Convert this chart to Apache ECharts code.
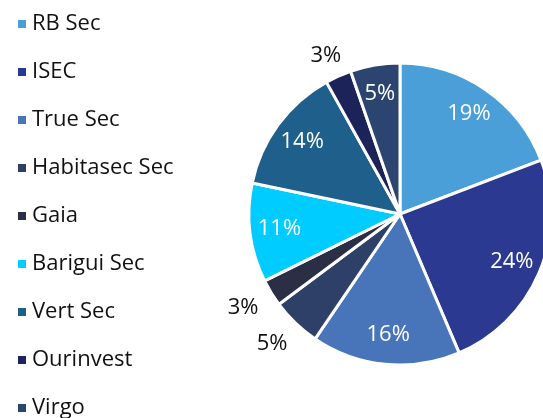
<!DOCTYPE html>
<html>
<head>
<meta charset="utf-8">
<script src="https://cdn.jsdelivr.net/npm/echarts@6/dist/echarts.min.js"></script>
<style>
  html, body { margin: 0; padding: 0; background: #fff; }
  #main { width: 543px; height: 418px; }
</style>
</head>
<body>
<div id="main"></div>
<script>
// securitizadoras - share (%)
var names = ['RB Sec', 'ISEC', 'True Sec', 'Habitasec Sec', 'Gaia', 'Barigui Sec', 'Vert Sec', 'Ourinvest', 'Virgo'];
var shares = [19.2, 24.4, 15.9, 5.3, 2.9, 10.6, 13.6, 2.8, 5.3];
var colors = ['#4A9FD8', '#2B3990', '#4874BA', '#2E4068', '#2B2F45', '#00CCFF', '#1F5F8B', '#1B2359', '#2C4570'];
// small slices get their label outside
var outside = ['Habitasec Sec', 'Gaia', 'Ourinvest'];

var chart = echarts.init(document.getElementById('main'), null, { renderer: 'canvas' });

var pieData = names.map(function (n, i) {
  return { name: n, value: shares[i], itemStyle: { color: colors[i] } };
});

var labelData = names.map(function (n, i) {
  var out = outside.indexOf(n) >= 0;
  var item = {
    name: n,
    value: shares[i],
    label: out ? { position: 'outside', color: '#111', distanceToLabelLine: -12 }
               : { position: 'inside', color: '#fff' }
  };
  if (n == 'Ourinvest') item.labelLine = { length: 22 };
  return item;
});

var option = {
  color: colors,
  textStyle: { fontFamily: 'Open Sans' },
  legend: {
    orient: 'vertical',
    left: 11,
    top: 8,
    height: 800,
    icon: 'rect',
    itemWidth: 10,
    itemHeight: 10,
    itemGap: 26,
    textStyle: { fontSize: 22, color: '#111', fontFamily: 'Open Sans' },
    data: names
  },
  series: [
    {
      name: 'share',
      type: 'pie',
      center: [400, 214],
      radius: [0, 151],
      startAngle: 90,
      silent: true,
      label: { show: false },
      labelLine: { show: false },
      itemStyle: { borderColor: '#fff', borderWidth: 3 },
      data: pieData
    },
    {
      // labels only
      name: 'labels',
      type: 'pie',
      center: [400, 214],
      radius: [86, 151],
      startAngle: 90,
      silent: true,
      percentPrecision: 0,
      itemStyle: { color: 'rgba(0,0,0,0)' },
      label: { show: true, formatter: '{d}%', fontSize: 22, fontFamily: 'Open Sans' },
      labelLine: { show: false, length: 29, length2: 0 },
      emphasis: { disabled: true },
      data: labelData
    }
  ]
};
chart.setOption(option);
</script>
</body>
</html>
